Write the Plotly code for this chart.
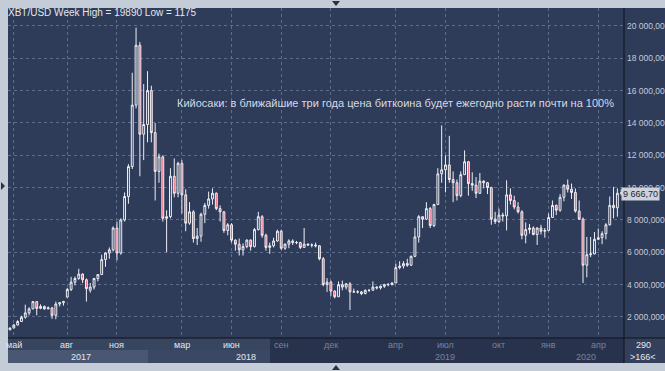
import pandas as pd
import plotly.graph_objects as go

# ---------------- data (weekly XBT/USD candles) ----------------
first_week = "2017-04-24"
open_ = [
    1210, 1320, 1500, 1720, 1980, 2250, 2500, 2950, 2530, 2650,
    2500, 2560, 2100, 2800, 2880, 3230, 3700, 4150, 4380, 4650,
    4300, 3650, 3850, 4380, 4620, 5550, 5950, 6150, 7500, 5950,
    8000, 9450, 11300, 15100, 18800, 13300, 13900, 16000, 13400, 11000,
    11900, 8100, 8200, 10700, 9650, 11500, 9550, 7800, 8500, 6850,
    7000, 8350, 8900, 9300, 9650, 8700, 8500, 7350, 7700, 6750,
    6500, 6150, 6350, 6750, 6350, 7400, 8200, 7050, 6300, 6400,
    6700, 7300, 6250, 6500, 6700, 6600, 6600, 6300, 6500, 6450,
    6450, 6400, 5600, 4000, 4150, 3600, 3250, 4000, 3850, 4050,
    3550, 3550, 3550, 3450, 3650, 3650, 3850, 3800, 3900, 4000,
    4000, 4100, 5050, 5150, 5300, 5200, 5750, 6950, 8200, 8050,
    8700, 7650, 8950, 10850, 11100, 11400, 10500, 10300, 9500, 10800,
    11600, 10250, 10150, 9650, 10400, 10300, 10000, 8050, 7900, 8300,
    8250, 9550, 9200, 8800, 8500, 7050, 7400, 7500, 7100, 7500,
    7300, 7350, 8150, 8900, 8600, 9400, 10150, 9900, 9700, 8550,
    8050, 5200, 5850, 5900, 6800, 6900, 7150, 7700, 8900, 8750,
    9650]
high = [
    1340, 1560, 1800, 2080, 2760, 2600, 2980, 2980, 2780, 2700,
    2650, 2620, 2950, 2920, 3000, 3800, 4480, 4500, 4980, 4700,
    4380, 4100, 4420, 4650, 5850, 6000, 6300, 7600, 7900, 8100,
    9700, 11450, 17100, 19890, 19000, 16400, 17200, 16300, 14000, 12100,
    12000, 8600, 11200, 11800, 11600, 11700, 9900, 9100, 8600, 7500,
    8450, 9050, 9750, 9950, 9700, 8900, 8550, 7800, 7800, 6800,
    6850, 6550, 6800, 6800, 7500, 8500, 8300, 7150, 6600, 6900,
    7400, 7400, 6550, 6800, 6800, 6700, 6650, 7500, 6550, 6550,
    6600, 6450, 5700, 4400, 4250, 3650, 4200, 4250, 4100, 4150,
    3750, 3650, 3600, 3700, 3700, 4200, 3900, 3950, 4050, 4100,
    4150, 5300, 5450, 5450, 5600, 5800, 7500, 8300, 8200, 9100,
    8800, 9000, 11200, 13850, 12000, 13200, 11000, 10500, 11000, 12300,
    11650, 10950, 10650, 10900, 10450, 10350, 10050, 8500, 8700, 8450,
    10450, 9950, 9500, 9100, 8600, 7850, 7750, 7600, 7550, 7700,
    7500, 8400, 9200, 8950, 9600, 10200, 10500, 10250, 9950, 9200,
    8150, 6950, 6950, 7250, 7470, 7300, 7800, 9450, 10050, 9950,
    9900]
low = [
    1175, 1300, 1480, 1700, 1900, 2100, 2480, 2100, 2480, 2450,
    2480, 1880, 1860, 2650, 2700, 3200, 3600, 3950, 4300, 4100,
    2950, 3500, 3700, 4200, 4600, 5100, 5600, 6050, 5500, 5850,
    7900, 9000, 11150, 14900, 10700, 11700, 12800, 12800, 9200, 10300,
    7900, 6000, 8100, 9400, 9400, 8400, 7300, 7700, 6600, 6450,
    6650, 7800, 8700, 8950, 8600, 7900, 7200, 7050, 6600, 6100,
    5800, 5800, 6250, 6100, 6300, 7350, 6900, 6100, 5900, 6300,
    6650, 6150, 6150, 6250, 6450, 6500, 6200, 6300, 6400, 6300,
    6300, 5500, 3900, 3550, 3300, 3150, 3250, 3650, 3700, 2430,
    3500, 3450, 3350, 3400, 3550, 3650, 3700, 3700, 3800, 3900,
    3950, 4100, 4950, 5000, 5100, 5150, 5700, 6600, 7500, 8000,
    7500, 7550, 8950, 10300, 9700, 10300, 9100, 9200, 9400, 10800,
    9500, 9800, 9350, 9600, 9950, 9600, 7700, 7750, 7800, 7900,
    7350, 8950, 8650, 8400, 6800, 6550, 7150, 7050, 6450, 7100,
    6900, 7300, 8150, 8300, 8500, 9150, 9700, 9300, 8450, 8000,
    4100, 4450, 5700, 5870, 6750, 6500, 6800, 7650, 8100, 8200,
    9500]
close = [
    1320, 1500, 1720, 1980, 2250, 2500, 2950, 2530, 2650, 2500,
    2560, 2100, 2800, 2880, 2950, 3700, 4150, 4380, 4650, 4300,
    3750, 3850, 4380, 4620, 5550, 5950, 6150, 7500, 5950, 8000,
    9450, 11300, 15100, 18800, 13300, 13900, 16000, 13400, 11000, 11900,
    8100, 8200, 10700, 9650, 11500, 9550, 7800, 8500, 6850, 7000,
    8350, 8900, 9300, 9650, 8700, 8500, 7350, 7700, 6750, 6500,
    6150, 6350, 6750, 6350, 7400, 8200, 7050, 6300, 6400, 6700,
    7300, 6250, 6500, 6700, 6600, 6600, 6300, 6500, 6450, 6450,
    6400, 5600, 4000, 4150, 3600, 3250, 4000, 3850, 4050, 3550,
    3550, 3550, 3450, 3650, 3650, 3850, 3800, 3900, 4000, 4000,
    4100, 5050, 5150, 5300, 5200, 5750, 6950, 8200, 8050, 8700,
    7650, 8950, 10850, 11100, 11400, 10500, 10300, 9500, 10800, 11600,
    10250, 10150, 9650, 10400, 10300, 10000, 8050, 7900, 8300, 8250,
    9550, 9200, 8800, 8500, 7050, 7400, 7500, 7100, 7500, 7300,
    7350, 8150, 8900, 8600, 9400, 10150, 9900, 9700, 8550, 8050,
    5200, 5850, 5900, 6800, 6900, 7150, 7700, 8900, 8750, 9650,
    9666.7]

month_ticks = ["2017-05-01", "2017-08-07", "2017-11-06", "2018-03-05",
               "2018-06-04", "2018-09-03", "2018-12-03", "2019-04-01",
               "2019-07-01", "2019-10-07", "2020-01-06", "2020-04-06"]
month_labels = ["май", "авг", "ноя", "мар", "июн", "сен", "дек", "апр",
                "июл", "окт", "янв", "апр"]
year_labels = ["2017", "2018", "2019", "2020"]
price_ticks = [2000, 4000, 6000, 8000, 10000, 12000, 14000, 16000, 18000, 20000]
# labels as far as they are visible in the narrow price panel
price_tick_labels = ["2 000,000", "4 000,000", "6 000,000", "8 000,000",
                     "10 000,00", "12 000,00", "14 000,00", "16 000,00",
                     "18 000,00", "20 000,00"]
last_price_label = "9 666,70"
title_text = "XBT/USD Week High = 19890 Low = 1175"
headline = "Кийосаки: в ближайшие три года цена биткоина будет ежегодно расти почти на 100%"

dates = pd.date_range(first_week, periods=len(close), freq="7D")

# ---------------- style ----------------
FONT = "Liberation Sans"
FRAME = "#c4ccd8"
BG = "#2e3b59"
BAND = "#28324c"
GRID = "#5d6d8d"
WHITE = "#eef0f4"
RED = "#f0566e"
TXT = "#e2e7ef"
DIM = "#76839e"

W, H = 665, 371
L, T, PW, PH = 8, 8, 616, 330
RIGHT = 665


def px(x):
    return (x - L) / PW


def py(y):
    return (T + PH - y) / PH


fig = go.Figure(go.Candlestick(
    x=dates, open=open_, high=high, low=low, close=close,
    increasing=dict(line=dict(color=WHITE, width=1), fillcolor=BG),
    decreasing=dict(line=dict(color=WHITE, width=1), fillcolor=RED),
    whiskerwidth=0, hoverinfo="skip"))

shapes = [
    # right price panel
    dict(type="rect", xref="paper", yref="paper", x0=px(624), x1=px(RIGHT + 1),
         y0=py(338), y1=py(8), fillcolor=BG, line=dict(width=0), layer="below"),
    # bottom time band
    dict(type="rect", xref="paper", yref="paper", x0=px(8), x1=px(RIGHT + 1),
         y0=py(363), y1=py(338), fillcolor=BAND, line=dict(width=0), layer="below"),
    dict(type="rect", xref="paper", yref="paper", x0=px(8), x1=px(270),
         y0=py(350), y1=py(338), fillcolor="#38455f", line=dict(width=0), layer="below"),
    dict(type="rect", xref="paper", yref="paper", x0=px(8), x1=px(148),
         y0=py(363), y1=py(350), fillcolor="#4a5772", line=dict(width=0), layer="below"),
    dict(type="rect", xref="paper", yref="paper", x0=px(148), x1=px(270),
         y0=py(363), y1=py(350), fillcolor="#3b4863", line=dict(width=0), layer="below"),
    dict(type="rect", xref="paper", yref="paper", x0=px(624), x1=px(RIGHT + 1),
         y0=py(363), y1=py(338), fillcolor="#34405b", line=dict(width=0), layer="below"),
    # separators
    dict(type="line", xref="paper", yref="paper", x0=px(624), x1=px(624),
         y0=py(363), y1=py(8), line=dict(color="#0e131d", width=1)),
    dict(type="line", xref="paper", yref="paper", x0=px(8), x1=px(RIGHT + 1),
         y0=py(338), y1=py(338), line=dict(color="#0e131d", width=1)),
]


def tri(points):
    d = "M " + " L ".join(f"{px(a):.5f},{py(b):.5f}" for a, b in points) + " Z"
    return dict(type="path", xref="paper", yref="paper", path=d,
                fillcolor="#2a3346", line=dict(width=0))


shapes += [tri([(332, 1), (340, 1), (336, 6)]),
           tri([(332, 370), (340, 370), (336, 365)]),
           tri([(1, 182), (1, 190), (5, 186)])]

ann = [
    dict(text=title_text, x=px(6), y=py(13), xanchor="left", yanchor="middle",
         font=dict(size=10, color=TXT, family=FONT)),
    dict(text=headline, x=px(175), y=py(103), xanchor="left", yanchor="middle",
         font=dict(size=11, color="#d4dae6", family=FONT)),
    dict(text=last_price_label, x=px(621), y=py(193.5), xanchor="left", yanchor="middle",
         bgcolor="#cdd1d9", borderpad=1, font=dict(size=9, color="#1c2438", family=FONT)),
    dict(text="290", x=px(643), y=py(345), xanchor="center", yanchor="middle",
         font=dict(size=9, color=TXT, family=FONT)),
    dict(text=">166<", x=px(643), y=py(357), xanchor="center", yanchor="middle",
         font=dict(size=9, color=TXT, family=FONT)),
]
for d, lab in zip(month_ticks, month_labels):
    bright = pd.Timestamp(d) < pd.Timestamp("2018-08-01")
    ann.append(dict(text=lab, x=d, xref="x", y=py(344.5), yref="paper",
                    xanchor="center", yanchor="middle",
                    font=dict(size=9, color=TXT if bright else DIM, family=FONT)))
year_pos = ["2017-09-01", "2018-07-01", "2019-07-01", "2020-03-15"]
for d, lab in zip(year_pos, year_labels):
    bright = lab in ("2017", "2018")
    ann.append(dict(text=lab, x=d, xref="x", y=py(357), yref="paper",
                    xanchor="center", yanchor="middle",
                    font=dict(size=9, color=TXT if bright else DIM, family=FONT)))
for a in ann:
    a.setdefault("xref", "paper")
    a.setdefault("yref", "paper")
    a["showarrow"] = False

fig.update_layout(
    width=W, height=H, margin=dict(l=L, r=W - L - PW, t=T, b=H - T - PH, autoexpand=False),
    paper_bgcolor=FRAME, plot_bgcolor=BG, showlegend=False,
    shapes=shapes, annotations=ann,
    xaxis=dict(type="date", range=["2017-04-20 08:00", "2020-05-23 03:00"],
               rangeslider=dict(visible=False), tickvals=month_ticks,
               showticklabels=False, ticks="", showgrid=True, gridcolor=GRID,
               griddash="dot", gridwidth=1, zeroline=False, showline=False,
               automargin=False),
    yaxis=dict(side="right", range=[699, 21106], tickvals=price_ticks,
               ticktext=price_tick_labels, ticks="", showgrid=True,
               gridcolor=GRID, griddash="dot", gridwidth=1, zeroline=False,
               showline=False, ticklabelstandoff=2, automargin=False,
               tickfont=dict(size=8.5, color="#c3cbda", family=FONT)),
)

fig.write_html(
    "out.html",
    config={"displayModeBar": False},
    post_script="document.body.style.margin='0';document.body.style.background='%s';" % FRAME,
)
